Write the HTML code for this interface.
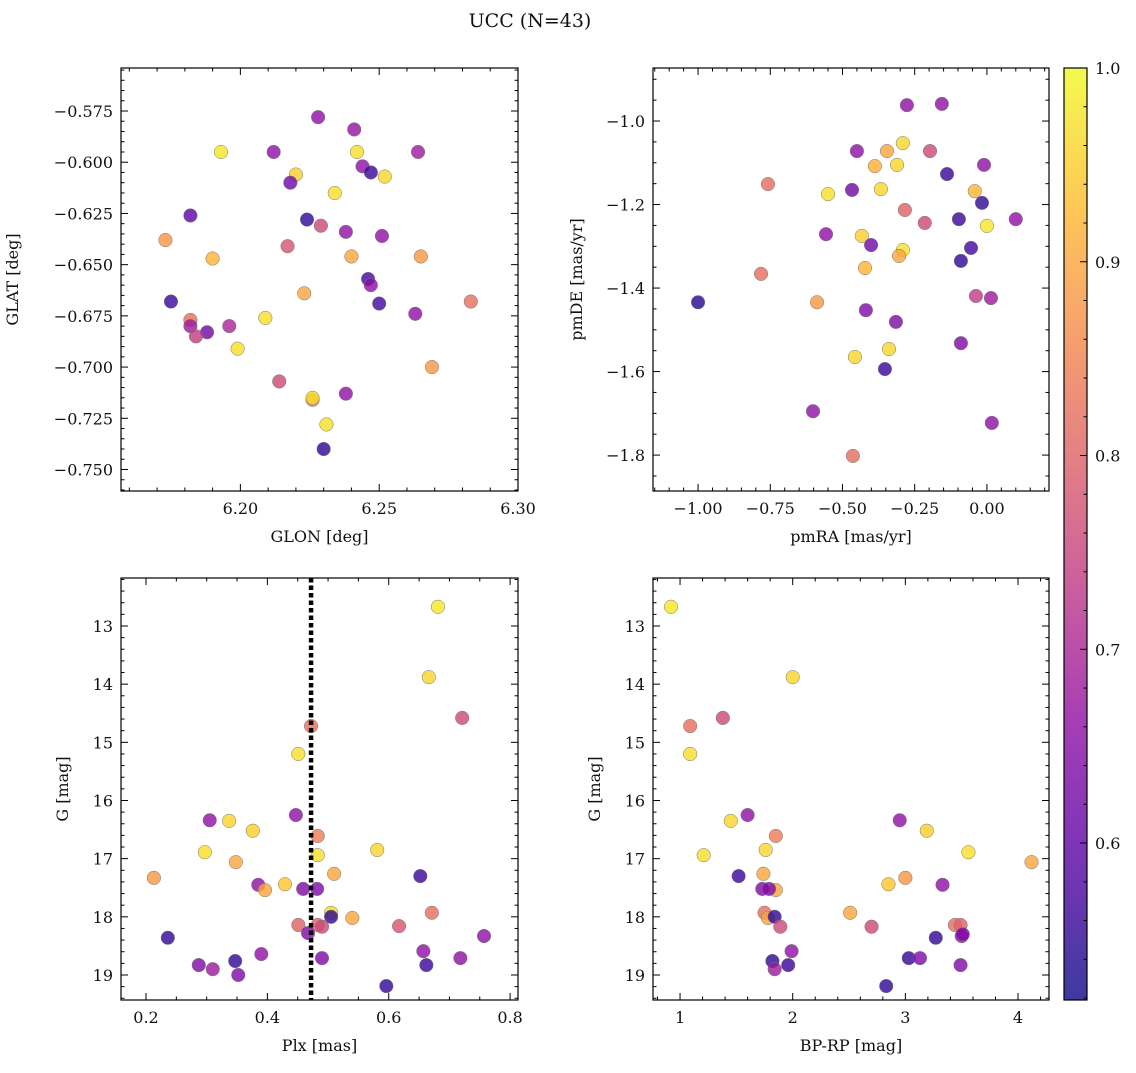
<!DOCTYPE html>
<html><head><meta charset="utf-8">
<style>
body{margin:0;background:#fff;}
svg text{font-family:"DejaVu Serif","Liberation Serif",serif;fill:#111;}
</style></head>
<body>
<svg id="fig" width="1136" height="1068" viewBox="0 0 1136 1068" xmlns="http://www.w3.org/2000/svg">
<text x="530" y="27" font-size="19" text-anchor="middle">UCC (N=43)</text>
</svg>
<script>
// ---- Panel 1 data: GLON vs GLAT ----
const p1x=[6.228,6.241,6.193,6.212,6.264,6.242,6.220,6.244,6.218,6.252,6.247,6.234,6.182,6.224,6.229,6.238,6.251,6.173,6.217,6.190,6.240,6.265,6.246,6.247,6.223,6.175,6.250,6.283,6.182,6.182,6.209,6.263,6.196,6.188,6.184,6.199,6.269,6.214,6.238,6.226,6.226,6.231,6.230];
const p1y=[-0.578,-0.584,-0.595,-0.595,-0.595,-0.595,-0.606,-0.602,-0.610,-0.607,-0.605,-0.615,-0.626,-0.628,-0.631,-0.634,-0.636,-0.638,-0.641,-0.647,-0.646,-0.646,-0.657,-0.660,-0.664,-0.668,-0.669,-0.668,-0.677,-0.680,-0.676,-0.674,-0.680,-0.683,-0.685,-0.691,-0.700,-0.707,-0.713,-0.716,-0.715,-0.728,-0.740];
const p1c=[0.66,0.67,0.98,0.66,0.68,0.97,0.95,0.66,0.62,0.96,0.56,0.97,0.6,0.55,0.76,0.66,0.66,0.88,0.78,0.92,0.9,0.88,0.57,0.66,0.9,0.56,0.57,0.82,0.82,0.68,0.97,0.66,0.7,0.62,0.74,0.97,0.88,0.76,0.66,0.84,0.97,0.97,0.55];
// ---- Panel 2 data: pmRA vs pmDE ----
const p2x=[-0.156,-0.277,-0.291,-0.450,-0.346,-0.197,-0.388,-0.311,-0.010,-0.138,-0.758,-0.042,-0.367,-0.550,-0.467,-0.017,-0.284,-0.097,0.100,0.0,-0.215,-0.557,-0.433,-0.401,-0.055,-0.291,-0.304,-0.090,-0.422,-0.782,-0.038,0.014,-1.0,-0.588,-0.419,-0.315,-0.090,-0.339,-0.457,-0.353,-0.602,0.017,-0.464];
const p2y=[-0.959,-0.962,-1.053,-1.072,-1.072,-1.072,-1.108,-1.105,-1.105,-1.127,-1.151,-1.168,-1.163,-1.175,-1.165,-1.196,-1.213,-1.235,-1.235,-1.251,-1.244,-1.271,-1.275,-1.297,-1.304,-1.309,-1.323,-1.335,-1.352,-1.366,-1.419,-1.424,-1.434,-1.434,-1.453,-1.481,-1.532,-1.546,-1.565,-1.594,-1.695,-1.723,-1.802];
const p2c=[0.66,0.66,0.96,0.66,0.9,0.76,0.91,0.96,0.66,0.56,0.82,0.92,0.96,0.97,0.62,0.55,0.8,0.56,0.66,0.98,0.76,0.66,0.95,0.62,0.57,0.97,0.9,0.55,0.92,0.82,0.74,0.68,0.54,0.88,0.64,0.64,0.64,0.96,0.96,0.56,0.66,0.66,0.82];
// ---- Panel 3 data: Plx vs G ----
const p3x=[0.681,0.666,0.721,0.472,0.451,0.305,0.337,0.447,0.376,0.483,0.297,0.483,0.581,0.348,0.510,0.213,0.652,0.429,0.385,0.396,0.459,0.482,0.505,0.671,0.540,0.505,0.451,0.483,0.490,0.467,0.617,0.236,0.657,0.390,0.490,0.347,0.718,0.287,0.310,0.662,0.352,0.757,0.596];
const p3y=[12.67,13.88,14.58,14.72,15.20,16.34,16.35,16.25,16.52,16.61,16.89,16.94,16.85,17.06,17.26,17.33,17.30,17.44,17.45,17.54,17.52,17.52,17.93,17.93,18.02,18.00,18.14,18.14,18.17,18.28,18.16,18.36,18.59,18.64,18.71,18.76,18.71,18.83,18.90,18.83,19.00,18.33,19.19];
const p3c=[0.98,0.96,0.76,0.82,0.97,0.66,0.96,0.66,0.95,0.84,0.97,0.97,0.96,0.9,0.9,0.88,0.56,0.94,0.66,0.9,0.64,0.64,0.96,0.82,0.9,0.55,0.8,0.8,0.76,0.64,0.78,0.55,0.66,0.66,0.64,0.55,0.66,0.64,0.68,0.56,0.64,0.66,0.55];
const plxLine=0.472;
// ---- Panel 4 data: BP-RP vs G ----
const p4x=[0.92,2.00,1.09,1.38,1.09,1.60,1.45,2.95,3.19,1.85,1.76,1.21,3.56,4.12,1.52,1.74,3.00,1.73,2.85,1.85,3.33,1.79,1.75,2.51,1.78,1.84,1.89,2.70,3.44,3.49,3.50,3.27,3.51,1.99,1.82,1.96,3.03,3.13,3.49,1.84,2.83];
const p4y=[12.67,13.88,14.72,14.58,15.20,16.25,16.35,16.34,16.52,16.61,16.85,16.94,16.89,17.06,17.30,17.26,17.33,17.52,17.44,17.54,17.45,17.52,17.93,17.93,18.02,18.00,18.17,18.17,18.14,18.14,18.33,18.36,18.30,18.59,18.76,18.83,18.71,18.71,18.83,18.90,19.19];
const p4c=[0.98,0.96,0.82,0.76,0.97,0.66,0.96,0.66,0.95,0.84,0.96,0.97,0.97,0.9,0.56,0.9,0.88,0.64,0.94,0.9,0.66,0.64,0.82,0.9,0.9,0.55,0.76,0.76,0.82,0.8,0.66,0.55,0.64,0.66,0.55,0.56,0.55,0.64,0.64,0.68,0.55];
const cbTicks=[0.6,0.7,0.8,0.9,1.0];
const cmin=0.519,cmax=1.0;

const NS="http://www.w3.org/2000/svg";
const svg=document.getElementById('fig');
function mk(tag,attrs,parent){const e=document.createElementNS(NS,tag);for(const k in attrs)e.setAttribute(k,attrs[k]);(parent||svg).appendChild(e);return e;}
const stops=[[13,8,135],[84,2,163],[139,10,165],[185,50,137],[219,92,104],[244,136,73],[254,188,43],[240,249,33]];
function plasma(t){t=Math.max(0,Math.min(1,t));const s=t*(stops.length-1);const i=Math.min(Math.floor(s),stops.length-2);const f=s-i;const a=stops[i],b=stops[i+1];return `rgb(${Math.round(a[0]+(b[0]-a[0])*f)},${Math.round(a[1]+(b[1]-a[1])*f)},${Math.round(a[2]+(b[2]-a[2])*f)})`;}
function cnorm(v){return (v-cmin)/(cmax-cmin);}

function panel(cfg){
  const g=mk('g',{});
  
  
  const {L,R,T,B,x0,x1,y0,y1}=cfg;
  const sx=v=>L+(v-x0)/(x1-x0)*(R-L);
  const sy=v=>T+(v-y0)/(y1-y0)*(B-T);
  const pts=mk('g',{},g);
  
  
  for(let i=0;i<cfg.xs.length;i++){
    const c=mk('circle',{cx:sx(cfg.xs[i]),cy:sy(cfg.ys[i]),r:6.8,fill:plasma(cnorm(cfg.cs[i])),'fill-opacity':0.8,stroke:'#777','stroke-width':0.5},pts);
    
    
  }
  if(cfg.extra) cfg.extra(g,sx,sy);
  const fr=mk('rect',{x:L,y:T,width:R-L,height:B-T,fill:'none',stroke:'#000','stroke-width':1.2},g);
  
  
  const eps=1e-9;
  const xmin=Math.min(x0,x1),xmax=Math.max(x0,x1);
  for(let v=Math.ceil(xmin/cfg.xmin-eps)*cfg.xmin;v<=xmax+eps;v+=cfg.xmin){
    const maj=Math.abs(v/cfg.xmaj-Math.round(v/cfg.xmaj))<1e-6;const len=maj?7:3.5;const x=sx(v);
    mk('line',{x1:x,x2:x,y1:B,y2:B-len,stroke:'#000','stroke-width':1},g);
    mk('line',{x1:x,x2:x,y1:T,y2:T+len,stroke:'#000','stroke-width':1},g);
  }
  cfg.xticks.forEach((v,i)=>{const t=mk('text',{x:sx(v),y:B+23,'font-size':16,'text-anchor':'middle'},g);t.textContent=cfg.xlabels[i];
    });
  const ymin=Math.min(y0,y1),ymax=Math.max(y0,y1);
  for(let v=Math.ceil(ymin/cfg.ymin-eps)*cfg.ymin;v<=ymax+eps;v+=cfg.ymin){
    const maj=Math.abs(v/cfg.ymaj-Math.round(v/cfg.ymaj))<1e-6;const len=maj?7:3.5;const y=sy(v);
    mk('line',{x1:L,x2:L+len,y1:y,y2:y,stroke:'#000','stroke-width':1},g);
    mk('line',{x1:R,x2:R-len,y1:y,y2:y,stroke:'#000','stroke-width':1},g);
  }
  cfg.yticks.forEach((v,i)=>{const t=mk('text',{x:L-8,y:sy(v)+6,'font-size':16,'text-anchor':'end'},g);t.textContent=cfg.ylabels[i];
    });
  const xt=mk('text',{x:(L+R)/2,y:B+51,'font-size':16,'text-anchor':'middle'},g);xt.textContent=cfg.xtitle;
  
  const yx=cfg.ytx, yy=(T+B)/2;
  const yt=mk('text',{x:yx,y:yy,'font-size':16,'text-anchor':'middle',transform:`rotate(-90 ${yx} ${yy})`},g);yt.textContent=cfg.ytitle;
  
}
const m='\u2212';
panel({name:'glon-glat-panel',L:121,R:518,T:68,B:491,x0:6.157,x1:6.300,y0:-0.554,y1:-0.7605,xs:p1x,ys:p1y,cs:p1c,
  xmaj:0.05,xmin:0.01,ymaj:0.025,ymin:0.005,xticks:[6.20,6.25,6.30],xlabels:['6.20','6.25','6.30'],
  yticks:[-0.575,-0.6,-0.625,-0.65,-0.675,-0.7,-0.725,-0.75],ylabels:[m+'0.575',m+'0.600',m+'0.625',m+'0.650',m+'0.675',m+'0.700',m+'0.725',m+'0.750'],
  xtitle:'GLON [deg]',ytitle:'GLAT [deg]',ytx:18});
panel({name:'proper-motion-panel',L:653,R:1049,T:68,B:491,x0:-1.156,x1:0.215,y0:-0.873,y1:-1.886,xs:p2x,ys:p2y,cs:p2c,
  xmaj:0.25,xmin:0.05,ymaj:0.2,ymin:0.05,xticks:[-1,-0.75,-0.5,-0.25,0],xlabels:[m+'1.00',m+'0.75',m+'0.50',m+'0.25','0.00'],
  yticks:[-1,-1.2,-1.4,-1.6,-1.8],ylabels:[m+'1.0',m+'1.2',m+'1.4',m+'1.6',m+'1.8'],
  xtitle:'pmRA [mas/yr]',ytitle:'pmDE [mas/yr]',ytx:582});
panel({name:'plx-g-panel',L:121,R:518,T:578,B:1000,x0:0.1588,x1:0.813,y0:12.175,y1:19.43,xs:p3x,ys:p3y,cs:p3c,
  xmaj:0.2,xmin:0.05,ymaj:1,ymin:0.2,xticks:[0.2,0.4,0.6,0.8],xlabels:['0.2','0.4','0.6','0.8'],
  yticks:[13,14,15,16,17,18,19],ylabels:['13','14','15','16','17','18','19'],
  xtitle:'Plx [mas]',ytitle:'G [mag]',ytx:68,
  extra:(g,sx,sy)=>{const l=mk('line',{x1:sx(plxLine),x2:sx(plxLine),y1:578,y2:1000,stroke:'#000','stroke-width':4.5,'stroke-dasharray':'4.5,3'},g);
    }});
panel({name:'cmd-panel',L:653,R:1049,T:578,B:1000,x0:0.76,x1:4.275,y0:12.175,y1:19.43,xs:p4x,ys:p4y,cs:p4c,
  xmaj:1,xmin:0.2,ymaj:1,ymin:0.2,xticks:[1,2,3,4],xlabels:['1','2','3','4'],
  yticks:[13,14,15,16,17,18,19],ylabels:['13','14','15','16','17','18','19'],
  xtitle:'BP-RP [mag]',ytitle:'G [mag]',ytx:600});
const cb=mk('g',{});


const defs=mk('defs',{},cb);
const grad=mk('linearGradient',{id:'cbg',x1:0,y1:1,x2:0,y2:0},defs);
for(let i=0;i<=20;i++){mk('stop',{offset:i/20,'stop-color':plasma(i/20),'stop-opacity':0.8},grad);}
const CT=68,CB=1000,CL=1064,CR=1087;
mk('rect',{x:CL,y:CT,width:CR-CL,height:CB-CT,fill:'url(#cbg)',stroke:'#000','stroke-width':1.2},cb);
const cy=v=>CB-(v-cmin)/(cmax-cmin)*(CB-CT);
for(let v=0.52;v<=1.0001;v+=0.02){const maj=Math.abs(v*10-Math.round(v*10))<1e-6;mk('line',{x1:CR,x2:CR-(maj?7:3.5),y1:cy(v),y2:cy(v),stroke:'#000','stroke-width':1},cb);}
cbTicks.forEach(v=>{const t=mk('text',{x:CR+8,y:cy(v)+6,'font-size':16},cb);t.textContent=v.toFixed(1);
  });
</script>
</body></html>
